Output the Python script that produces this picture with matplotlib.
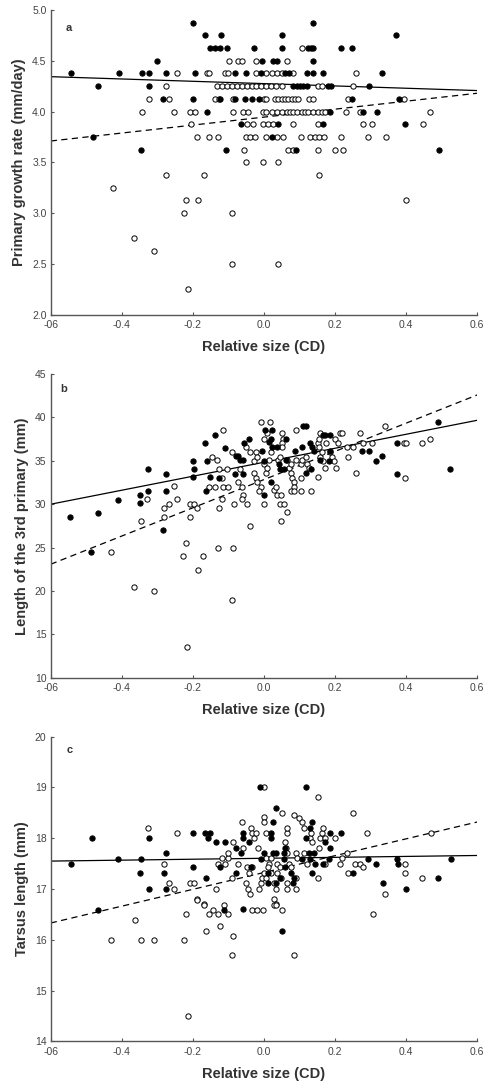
import numpy as np
import matplotlib
matplotlib.use("Agg")
import matplotlib.pyplot as plt

plt.rcParams['font.family'] = ['Liberation Sans', 'DejaVu Sans']

# ---- panel a: primary growth rate ----
a_filled_x = [-0.199, 0.137,
              -0.165, -0.122, 0.051, 0.371,
              -0.151, -0.138, -0.124, -0.105, -0.028, 0.051, 0.125, 0.132, 0.139, 0.216, 0.247,
              -0.302, -0.005, 0.026, 0.036, 0.137,
              -0.543, -0.408, -0.342, -0.323, -0.276, -0.194, -0.081, -0.051, -0.008, 0.060, 0.070, 0.121, 0.137, 0.167, 0.332,
              -0.468, -0.323, 0.082, 0.092, 0.101, 0.110, 0.120, 0.181, 0.188, 0.296,
              -0.283, -0.199, -0.124, -0.081, -0.053, -0.033, -0.014, 0.248, 0.381,
              -0.161, 0.186, 0.279, 0.317,
              -0.066, 0.040, 0.167, 0.397,
              -0.482, 0.022,
              -0.347, -0.107, 0.090, 0.493]
a_filled_y = [4.875] * 2 + [4.75] * 4 + [4.625] * 11 + [4.5] * 5 + [4.375] * 15 + \
             [4.25] * 10 + [4.125] * 9 + [4.0] * 4 + [3.875] * 4 + [3.75] * 2 + [3.625] * 4

a_open_x = [0.107,
            -0.099, -0.072, -0.063, -0.021, 0.066,
            -0.244, -0.161, -0.156, -0.110, -0.100, -0.022, 0.007, 0.022, 0.036, 0.050, 0.082, 0.259,
            -0.276, -0.133, -0.119, -0.105, -0.091, -0.077, -0.063, -0.049, -0.035, -0.021, -0.007,
            0.007, 0.021, 0.035, 0.050, 0.153, 0.162, 0.251,
            -0.323, -0.266, -0.138, -0.126, -0.086, 0.000, 0.007, 0.031, 0.040, 0.050, 0.059, 0.068,
            0.078, 0.087, 0.097, 0.127, 0.139, 0.237, 0.395,
            -0.342, -0.253, -0.208, -0.194, -0.086, -0.058, -0.044, -0.002, 0.007, 0.022, 0.036, 0.050,
            0.064, 0.073, 0.082, 0.092, 0.106, 0.115, 0.125, 0.139, 0.153, 0.162, 0.172, 0.232, 0.270, 0.467,
            -0.206, -0.049, -0.032, -0.002, 0.012, 0.026, 0.082, 0.153, 0.279, 0.303, 0.448,
            -0.187, -0.154, -0.128, -0.051, -0.038, -0.025, 0.007, 0.036, 0.053, 0.104, 0.129, 0.143,
            0.155, 0.168, 0.216, 0.293, 0.343,
            -0.055, 0.068, 0.081, 0.153, 0.200, 0.223,
            -0.051, -0.002, 0.040,
            -0.276, -0.169, 0.156,
            -0.426,
            -0.218, -0.185, 0.399,
            -0.226, -0.089,
            -0.366,
            -0.309,
            -0.089, 0.039,
            -0.215]
a_open_y = [4.625] * 1 + [4.5] * 5 + [4.375] * 12 + [4.25] * 18 + [4.125] * 19 + [4.0] * 26 + \
           [3.875] * 11 + [3.75] * 17 + [3.625] * 6 + [3.5] * 3 + [3.375] * 3 + [3.25] + \
           [3.125] * 3 + [3.0] * 2 + [2.75] + [2.625] + [2.5] * 2 + [2.25]

# fitted lines: (intercept, slope)
a_fit_filled = (4.275, -0.114)
a_fit_open = (3.945, 0.392)

# ---- panel b: length of 3rd primary ----
b_filled_x = [-0.546, -0.487, -0.467, -0.411, -0.350, -0.348, -0.326, -0.326, -0.277, -0.277, -0.284,
              -0.200, -0.198, -0.200, -0.166, -0.164, -0.160, -0.137, -0.152, -0.126, -0.111, -0.081,
              -0.078, -0.072, -0.068, -0.056, -0.041, -0.059, -0.059, 0.000, 0.000, 0.003, -0.006,
              0.014, 0.023, 0.023, 0.020, 0.020, 0.036, 0.042, 0.046, 0.056, 0.062, 0.062, 0.087,
              0.107, 0.110, 0.117, 0.119, 0.129, 0.131, 0.135, 0.142, 0.166, 0.172, 0.159, 0.182,
              0.187, 0.187, 0.277, 0.296, 0.314, 0.333, 0.373, 0.375, 0.490, 0.524]
b_filled_y = [28.5, 24.5, 29.0, 30.5, 30.1, 31.0, 31.5, 34.1, 33.5, 31.5, 27.0,
              35.0, 34.1, 33.1, 37.0, 31.5, 35.0, 38.0, 33.1, 33.0, 36.5, 33.5,
              35.5, 35.5, 35.1, 37.0, 37.5, 35.1, 33.5, 35.0, 31.0, 38.5, 36.1,
              37.2, 36.6, 38.5, 37.5, 32.6, 36.6, 34.6, 34.1, 34.1, 37.5, 35.1, 36.1,
              36.6, 39.0, 39.0, 33.6, 37.0, 34.1, 36.6, 36.1, 38.0, 38.0, 35.1, 35.0,
              38.0, 36.1, 36.1, 36.1, 35.0, 35.5, 37.0, 33.5, 39.5, 34.1]

b_open_x = [-0.347, -0.329, -0.281, -0.281, -0.268, -0.253, -0.246, -0.208, -0.208, -0.196, -0.189,
            -0.146, -0.133, -0.126, -0.154, -0.138, -0.126, -0.117, -0.114, -0.119, -0.105, -0.102,
            -0.115, -0.091, -0.084, -0.073, -0.067, -0.061, -0.058, -0.063, -0.049, -0.051, -0.038,
            -0.039, -0.028, -0.023, -0.019, -0.028, -0.023, -0.019, -0.009, -0.014, -0.009, 0.017,
            0.000, 0.009, 0.005, 0.000, 0.009, 0.000, 0.014, 0.019, 0.028, 0.033, 0.037, 0.039,
            0.045, 0.051, 0.054, 0.051, 0.051, 0.047, 0.045, 0.056, 0.047, 0.065, 0.065, 0.070,
            0.075, 0.079, 0.084, 0.084, 0.075, 0.084, 0.075, 0.089, 0.091, 0.103, 0.107, 0.103,
            0.103, 0.119, 0.121, 0.126, 0.132, 0.151, 0.154, 0.154, 0.151, 0.159, 0.163, 0.157,
            0.166, 0.173, 0.175, 0.185, 0.191, 0.196, 0.203, 0.213, 0.219, 0.200, 0.207, 0.233,
            0.236, 0.250, 0.258, 0.269, 0.280, 0.305, 0.341, 0.394, 0.399, 0.397, 0.445, 0.467,
            -0.220, -0.430, -0.228, -0.171, -0.130, -0.087, -0.186, -0.366, -0.310, -0.091, -0.216]
b_open_y = [28.08, 30.57, 28.54, 29.54, 30.03, 32.07, 30.57, 28.54, 30.03, 30.03, 29.54,
            35.48, 35.10, 34.03, 32.03, 32.03, 29.54, 33.07, 32.03, 30.57, 34.03, 32.03,
            38.55, 36.06, 30.03, 32.61, 34.03, 32.03, 31.03, 30.57, 30.03, 36.56, 36.06,
            27.46, 35.02, 36.06, 35.48, 33.56, 32.99, 32.61, 32.03, 31.57, 39.51, 39.51,
            37.52, 38.17, 33.56, 34.64, 34.14, 30.03, 35.10, 36.06, 31.65, 32.03, 31.03, 35.10,
            35.48, 38.17, 37.52, 37.02, 36.56, 31.03, 30.03, 30.03, 28.04, 29.04, 35.10, 34.14,
            33.56, 32.99, 32.61, 32.03, 31.57, 31.57, 34.64, 35.10, 38.55, 34.64, 35.10, 32.99,
            31.57, 35.48, 34.64, 34.14, 31.49, 37.02, 37.52, 36.56, 33.10, 35.48, 36.06, 38.17,
            35.02, 34.14, 37.02, 36.06, 35.48, 35.02, 34.14, 38.17, 38.17, 37.52, 37.02, 36.56,
            35.48, 36.56, 33.56, 38.17, 37.02, 37.02, 39.01, 37.02, 37.02, 32.99, 37.02, 37.48,
            25.56, 24.50, 24.03, 24.00, 25.00, 25.00, 22.45, 20.45, 20.00, 18.90, 13.50]

b_fit_filled = (34.83, 8.06)
b_fit_open = (32.83, 16.26)

# ---- panel c: tarsus length ----
c_filled_x = [-0.544, -0.485, -0.466, -0.410, -0.346, -0.350, -0.323, -0.323, -0.276, -0.281, -0.276,
              -0.200, -0.200, -0.166, -0.151, -0.158, -0.162, -0.136, -0.109, -0.125, -0.113, -0.080,
              -0.080, -0.066, -0.058, -0.058, -0.043, -0.036, -0.058, -0.010, -0.008, 0.000, 0.010,
              0.010, 0.021, 0.021, 0.025, 0.034, 0.025, 0.033, 0.034, 0.046, 0.055, 0.058, 0.055,
              0.060, 0.052, 0.077, 0.083, 0.085, 0.108, 0.117, 0.117, 0.129, 0.136, 0.127, 0.141,
              0.130, 0.136, 0.143, 0.167, 0.173, 0.183, 0.186, 0.187, 0.217, 0.250, 0.294, 0.315,
              0.335, 0.374, 0.378, 0.400, 0.491, 0.525]
c_filled_y = [17.50, 18.00, 16.58, 17.60, 17.60, 17.32, 18.00, 17.00, 17.71, 17.32, 17.00,
              18.10, 17.43, 18.10, 18.10, 18.00, 17.22, 17.92, 17.92, 17.43, 16.58, 17.80,
              17.32, 17.71, 18.10, 18.00, 17.92, 17.43, 16.60, 19.00, 17.60, 17.71, 17.32,
              17.11, 18.00, 18.10, 18.31, 18.60, 17.71, 17.71, 17.11, 17.22, 17.71, 17.81, 17.60,
              17.43, 16.18, 17.32, 17.11, 17.22, 17.60, 19.00, 18.00, 18.21, 18.31, 17.71, 17.71,
              17.60, 17.32, 17.50, 17.50, 17.92, 17.60, 17.81, 18.10, 18.10, 17.32, 17.60, 17.50,
              17.11, 17.60, 17.50, 17.00, 17.22, 17.60]

c_open_x = [-0.280, -0.327, -0.266, -0.252, -0.244, -0.208, -0.197, -0.187, -0.170, -0.136, -0.129,
            -0.118, -0.109, -0.102, -0.102, -0.089, -0.088, -0.074, -0.062, -0.058, -0.050, -0.046,
            -0.038, -0.047, -0.034, -0.041, -0.036, -0.034, -0.029, -0.022, -0.018, -0.015, -0.008,
            -0.006, 0.001, -0.001, 0.001, 0.007, 0.007, 0.013, 0.010, 0.020, 0.001, 0.006, 0.021,
            0.029, 0.034, 0.029, 0.034, 0.038, 0.046, 0.038, 0.048, 0.052, 0.059, 0.062, 0.066,
            0.066, 0.066, 0.064, 0.066, 0.071, 0.075, 0.085, 0.089, 0.089, 0.099, 0.108, 0.113,
            0.089, 0.094, 0.113, 0.122, 0.130, 0.131, 0.136, 0.152, 0.155, 0.157, 0.162, 0.167,
            0.171, 0.173, 0.153, 0.201, 0.215, 0.220, 0.234, 0.236, 0.251, 0.257, 0.271, 0.280,
            0.290, 0.341, 0.397, 0.397, 0.445, 0.469,
            -0.429, -0.364, -0.346, -0.308, -0.226, -0.218, -0.214, -0.188, -0.170, -0.162, -0.156,
            -0.143, -0.129, -0.113, -0.102, -0.125, -0.088, -0.090, -0.034, -0.020, -0.002, 0.027,
            0.034, 0.052, 0.085, 0.308]
c_open_y = [17.50, 18.20, 17.11, 17.00, 18.11, 17.11, 17.11, 16.81, 16.71, 17.00, 17.50,
            17.61, 17.50, 17.61, 17.71, 17.22, 17.92, 17.50, 18.31, 17.81, 17.11, 17.00,
            16.91, 17.43, 17.43, 17.32, 18.21, 18.11, 18.00, 18.11, 17.81, 17.00, 17.11,
            17.22, 19.00, 18.41, 18.31, 18.11, 17.61, 17.50, 17.43, 17.32, 17.32, 17.22, 17.61,
            17.11, 17.00, 16.81, 16.71, 17.50, 17.43, 17.32, 17.22, 18.49, 17.92, 17.81, 17.71,
            18.11, 18.21, 17.11, 17.00, 17.50, 17.43, 18.46, 17.22, 17.00, 18.39, 18.31, 18.21,
            17.71, 17.61, 17.71, 17.50, 18.00, 18.11, 17.92, 18.82, 17.81, 18.00, 18.11, 18.21,
            17.50, 18.00, 17.22, 18.00, 17.50, 17.61, 17.71, 17.32, 18.49, 17.50, 17.50, 17.43,
            18.11, 16.91, 17.50, 17.32, 17.22, 18.11,
            16.00, 16.39, 16.00, 16.00, 16.00, 16.50, 14.49, 16.78, 16.68, 16.18, 16.50,
            16.58, 16.50, 16.68, 16.50, 16.28, 16.08, 15.69, 16.58, 16.58, 16.58, 16.68,
            16.68, 16.58, 15.69, 16.50]

c_fit_filled = (17.605, 0.092)
c_fit_open = (17.325, 1.658)

x_ticks = [-0.6, -0.4, -0.2, 0.0, 0.2, 0.4, 0.6]
x_ticklabels = ['-06', '-0.4', '-0.2', '0.0', '0.2', '0.4', '0.6']

panels = [
    dict(rect=[0.1039, 0.710, 0.874, 0.2808], fx=a_filled_x, fy=a_filled_y, ox=a_open_x, oy=a_open_y,
         fit_f=a_fit_filled, fit_o=a_fit_open, ylim=(2.0, 5.0), yticks=np.arange(2.0, 5.01, 0.5),
         yfmt='{:.1f}', ylabel='Primary growth rate (mm/day)', letter='a', lpos=(0.034, 0.94)),
    dict(rect=[0.1039, 0.3754, 0.874, 0.2799], fx=b_filled_x, fy=b_filled_y, ox=b_open_x, oy=b_open_y,
         fit_f=b_fit_filled, fit_o=b_fit_open, ylim=(10, 45), yticks=np.arange(10, 46, 5),
         yfmt='{:.0f}', ylabel='Length of the 3rd primary (mm)', letter='b', lpos=(0.023, 0.95)),
    dict(rect=[0.1039, 0.0403, 0.874, 0.2807], fx=c_filled_x, fy=c_filled_y, ox=c_open_x, oy=c_open_y,
         fit_f=c_fit_filled, fit_o=c_fit_open, ylim=(14, 20), yticks=np.arange(14, 21, 1),
         yfmt='{:.0f}', ylabel='Tarsus length (mm)', letter='c', lpos=(0.037, 0.955)),
]

fig = plt.figure(figsize=(4.88, 10.85), dpi=100)
axis_col = '#555555'
text_col = '#444444'

for p in panels:
    ax = fig.add_axes(p['rect'])
    xs = np.linspace(-0.6, 0.6, 50)
    ax.plot(xs, p['fit_f'][0] + p['fit_f'][1] * xs, color='black', lw=0.9, zorder=2)
    ax.plot(xs, p['fit_o'][0] + p['fit_o'][1] * xs, color='black', lw=0.9,
            linestyle=(0, (5, 3.5)), zorder=2)
    ax.plot(p['ox'], p['oy'], 'o', ms=3.8, mfc='white', mec='black', mew=0.7, zorder=3)
    ax.plot(p['fx'], p['fy'], 'o', ms=3.8, mfc='black', mec='black', mew=0.7, zorder=4)

    ax.set_xlim(-0.6, 0.6)
    ax.set_ylim(*p['ylim'])
    ax.set_xticks(x_ticks)
    ax.set_xticklabels(x_ticklabels)
    ax.set_yticks(p['yticks'])
    ax.set_yticklabels([p['yfmt'].format(v) for v in p['yticks']])
    ax.spines['top'].set_visible(False)
    ax.spines['right'].set_visible(False)
    for s in ['left', 'bottom']:
        ax.spines[s].set_color(axis_col)
        ax.spines[s].set_linewidth(1.0)
    ax.tick_params(direction='in', length=2.5, width=0.8, color=axis_col,
                   labelsize=7.5, labelcolor=text_col)
    ax.tick_params(axis='x', pad=4)
    ax.tick_params(axis='y', pad=3)
    ax.set_xlabel('Relative size (CD)', fontsize=10.5, fontweight='bold', color='#333333', labelpad=7)
    ax.set_ylabel(p['ylabel'], fontsize=10.5, fontweight='bold', color='#333333', labelpad=4)
    ax.text(p['lpos'][0], p['lpos'][1], p['letter'], transform=ax.transAxes,
            fontsize=8, fontweight='bold', color='#333333', va='center', ha='left')

fig.savefig('out.png', dpi=100)
